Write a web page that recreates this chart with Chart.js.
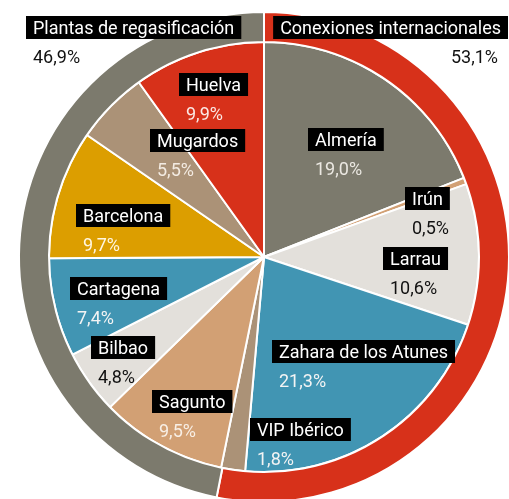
<!DOCTYPE html>
<html>
<head>
<meta charset="utf-8">
<script src="https://cdn.jsdelivr.net/npm/chart.js@4"></script>
<style>
  html, body { margin: 0; padding: 0; background: #fff; overflow: hidden; }
  #wrap { width: 509px; height: 499px; }
</style>
</head>
<body>
<div id="wrap"><canvas id="gasChart" width="509" height="499"></canvas></div>
<script>
// outer ring: type of entry point
const groupNames = ['Conexiones internacionales', 'Plantas de regasificación'];
const groupValues = [53.1, 46.9];

// inner pie: entry points, clockwise from the top
const pointNames = ['Almería', 'Irún', 'Larrau', 'Zahara de los Atunes', 'VIP Ibérico',
  'Sagunto', 'Bilbao', 'Cartagena', 'Barcelona', 'Mugardos', 'Huelva'];
const pointValues = [19.0, 0.5, 10.6, 21.3, 1.8, 9.5, 4.8, 7.4, 9.7, 5.5, 9.9];

const GRAY = '#7c7a6d', RED = '#d7311a', TAN = '#d2a074', LIGHT = '#e3e0db',
      BLUE = '#4195b3', GOLD = '#dc9e00', TAUPE = '#ab9277';

const groupColors = [RED, GRAY];
const pointColors = [GRAY, TAN, LIGHT, BLUE, TAUPE, TAN, LIGHT, BLUE, GOLD, TAUPE, RED];
const pointValueColors = ['#ebe8e2', '#111', '#111', '#f4f4f4', '#f4f4f4', '#f8efe6',
  '#111', '#f4f4f4', '#fff6e0', '#f3ebe2', '#fbe9e5'];

// label box top-left relative to the pie centre ('right' = box right edge)
const groupSpots = [[244, -241, 'right'], [-238, -241, 'left']];
const pointSpots = [[44, -129], [141, -70], [119, -10], [8, 83], [-14, 161],
  [-112, 133], [-173, 79], [-194, 20], [-188, -53], [-114, -128], [-85, -184]];

const fmt = v => v.toFixed(1).replace('.', ',') + '%';

const labelPlugin = {
  id: 'boxLabels',
  afterDatasetsDraw(chart) {
    const ctx = chart.ctx;
    const arc = chart.getDatasetMeta(1).data[0];
    const cx = arc.x, cy = arc.y;
    ctx.save();
    ctx.font = '18px Roboto';
    ctx.textBaseline = 'alphabetic';

    const drawLabel = (name, value, spot, valueColor) => {
      const w = ctx.measureText(name).width + 14;
      const left = spot[2] === 'right' ? cx + spot[0] - w : cx + spot[0];
      const top = cy + spot[1];
      ctx.fillStyle = '#000';
      ctx.fillRect(left, top, w, 23);
      ctx.fillStyle = '#fff';
      ctx.textAlign = 'left';
      ctx.fillText(name, left + 7, top + 18);
      ctx.fillStyle = valueColor;
      if (spot[2] === 'right') {
        ctx.textAlign = 'right';
        ctx.fillText(value, left + w - 10, top + 47);
      } else {
        ctx.fillText(value, left + 7, top + 47);
      }
    };

    groupNames.forEach((n, i) => drawLabel(n, fmt(groupValues[i]), groupSpots[i], '#111'));
    pointNames.forEach((n, i) => drawLabel(n, fmt(pointValues[i]), pointSpots[i], pointValueColors[i]));
    ctx.restore();
  }
};

new Chart('gasChart', {
  type: 'doughnut',
  data: {
    labels: pointNames,
    datasets: [{
      label: 'Tipo',
      data: groupValues,
      backgroundColor: groupColors,
      borderColor: '#fff',
      borderWidth: 2,
      weight: 30
    }, {
      label: 'Punto de entrada',
      data: pointValues,
      backgroundColor: pointColors,
      borderColor: '#fff',
      borderWidth: 2,
      weight: 215
    }]
  },
  options: {
    responsive: false,
    animation: false,
    cutout: 0,
    radius: 245,
    layout: { padding: { left: 19, right: 0, top: 15, bottom: 0 } },
    plugins: {
      legend: { display: false },
      tooltip: { enabled: false }
    }
  },
  plugins: [labelPlugin]
});
</script>
</body>
</html>
